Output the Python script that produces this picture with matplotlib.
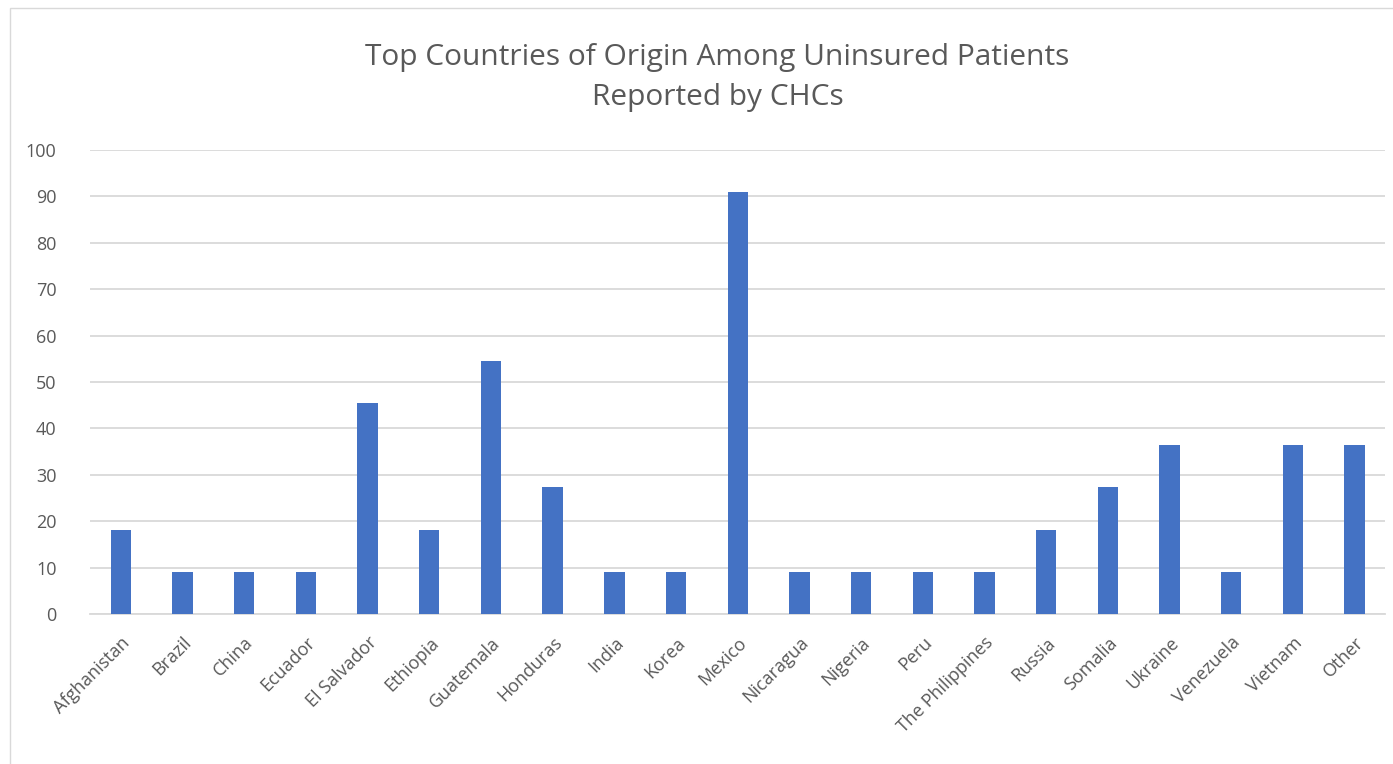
import matplotlib.pyplot as plt
from matplotlib.patches import Rectangle
import numpy as np

countries = ["Afghanistan", "Brazil", "China", "Ecuador", "El Salvador", "Ethiopia",
             "Guatemala", "Honduras", "India", "Korea", "Mexico", "Nicaragua",
             "Nigeria", "Peru", "The Philippines", "Russia", "Somalia", "Ukraine",
             "Venezuela", "Vietnam", "Other"]
percent = [18.2, 9.1, 9.1, 9.1, 45.5, 18.2, 54.5, 27.3, 9.1, 9.1, 90.9, 9.1,
           9.1, 9.1, 9.1, 18.2, 27.3, 36.4, 9.1, 36.4, 36.4]
y_ticks = [0, 10, 20, 30, 40, 50, 60, 70, 80, 90, 100]

plt.rcParams['font.family'] = ['Open Sans', 'DejaVu Sans']
text_color = "#595959"

fig = plt.figure(figsize=(13.93, 7.64), dpi=100)
ax = fig.add_axes([0.0646, 0.196, 0.930, 0.608])

x = np.arange(len(countries))
ax.bar(x, percent, width=0.33, color="#4472C4", zorder=3)

ax.set_xlim(-0.5, len(countries) - 0.5)
ax.set_ylim(0, 100)
ax.set_yticks(y_ticks)
ax.set_yticklabels([str(t) for t in y_ticks], color=text_color, fontsize=13)
ax.set_xticks(x)
ax.set_xticklabels(countries, rotation=45, ha="right", rotation_mode="anchor",
                   color=text_color, fontsize=13)
ax.tick_params(axis="both", length=0)
ax.tick_params(axis="y", pad=24)
ax.tick_params(axis="x", pad=14)
ax.yaxis.grid(True, color="#d9d9d9", linewidth=1.3, zorder=0)
for side in ["top", "right", "left"]:
    ax.spines[side].set_visible(False)
ax.spines["bottom"].set_color("#d9d9d9")
ax.spines["bottom"].set_linewidth(1.3)

fig.text(0.515, 0.898, "Top Countries of Origin Among Uninsured Patients\nReported by CHCs",
         ha="center", va="center", fontsize=21.5, color=text_color, linespacing=1.5)

# thin frame around the chart area
fig.patches.append(Rectangle((0.007, -0.01), 1.1, 1.0, transform=fig.transFigure,
                             fill=False, edgecolor="#d9d9d9", linewidth=1))

fig.savefig("out.png", dpi=100)
